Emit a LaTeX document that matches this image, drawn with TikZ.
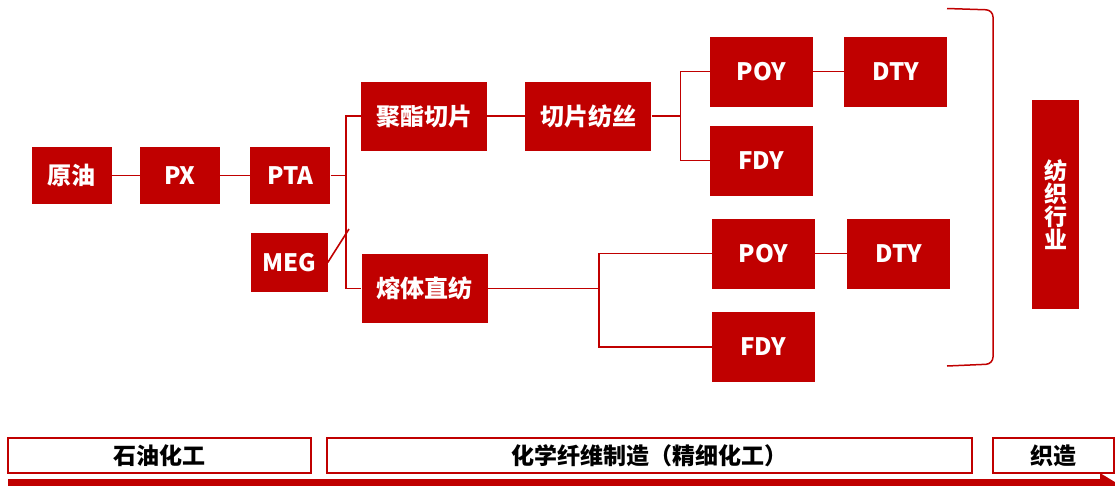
\documentclass[tikz,border=0pt]{standalone}
\usepackage{fontspec}
\setmainfont{Noto Sans CJK SC}
\usepackage{tikz}
\usetikzlibrary {positioning}

\definecolor{chainred}{HTML}{C00000}

\tikzset{
  stage/.style={rectangle, fill=chainred, text=white, inner sep=0pt,
    font=\bfseries\fontsize{24}{24}\selectfont},
  small/.style={stage, minimum width=80pt, minimum height=57pt},
  long/.style={stage, minimum width=126pt, minimum height=69pt},
  yarn/.style={stage, minimum width=103pt, minimum height=70pt},
  link/.style={draw=chainred, line width=1.6pt},
  phase/.style={rectangle, draw=chainred, line width=1.5pt, fill=white,
    minimum height=35pt, inner sep=0pt,
    font=\bfseries\fontsize{23}{23}\selectfont}
}

\begin{document}
\begin{tikzpicture}[x=1pt, y=-1pt]
\useasboundingbox (0,0) rectangle (1115,485);

%raw materials
\node [small] (yuanyou) at (71.5,175.5) {原油};
\node [small] (px) [right=28pt of yuanyou] {PX};
\node [small] (pta) [right=30pt of px] {PTA};
\node [small, minimum width=77pt, minimum height=59pt] (meg) at (289,262.5) {MEG};
\draw [link] (yuanyou) to (px);
\draw [link] (px) to (pta);

%polymer
\node [long] (juzhi) at (424,116) {聚酯切片};
\node [long] (rongti) at (424.5,288.5) {熔体直纺};
\coordinate (fork) at ([xshift=-15pt]juzhi.west);
\coordinate (megend) at (349,229);
\draw [link] (juzhi.west) -- (fork) |- (rongti.west);
\draw [link] (pta) to (pta -| fork);
\draw [link] (meg.east) to (megend);

%chip spinning
\node [long] (qiepian) [right=38pt of juzhi] {切片纺丝};
\draw [link] (juzhi) to (qiepian);

\node [yarn] (poya) at (761.5,71.5) {POY};
\node [yarn] (dtya) [right=31pt of poya] {DTY};
\node [yarn] (fdya) at (761.5,160.5) {FDY};
\coordinate (forka) at ([xshift=29pt]qiepian.east);
\draw [link] (qiepian.east) -- (forka) |- (poya.west);
\draw [link] (forka) |- (fdya.west);
\draw [link] (poya) to (dtya);

%direct spinning
\node [yarn] (poyb) at (763.5,253.5) {POY};
\node [yarn] (dtyb) [right=32pt of poyb] {DTY};
\node [yarn] (fdyb) at (763.5,347) {FDY};
\coordinate (forkb) at ([xshift=111pt]rongti.east);
\draw [link] (rongti.east) -- (forkb) |- (poyb.west);
\draw [link] (forkb) |- (fdyb.west);
\draw [link] (poyb) to (dtyb);

%textile
\draw [draw=chainred, line width=1.5pt, rounded corners=7pt]
  (947,8.5) -- (993,10) -- (993,364) -- (947,366);
\node [stage, minimum width=47pt, minimum height=209pt, align=center,
  font=\bfseries\fontsize{23}{23}\selectfont] (fangzhi) at (1055.5,204.5)
  {纺\\织\\行\\业};

%phases
\node [phase, minimum width=303pt] (shiyou) at (159.5,455.5) {石油化工};
\node [phase, minimum width=645pt] (huaxian) at (649.5,455.5) {化学纤维制造（精细化工）};
\node [phase, minimum width=121pt] (zhizao) at (1053.5,455.5) {织造};
\fill [chainred] (8,479) -- (1100,479) -- (1100,473) -- (1128,490)
  -- (1100,507) -- (1100,501) -- (8,501) -- cycle;

\end{tikzpicture}
\end{document}
